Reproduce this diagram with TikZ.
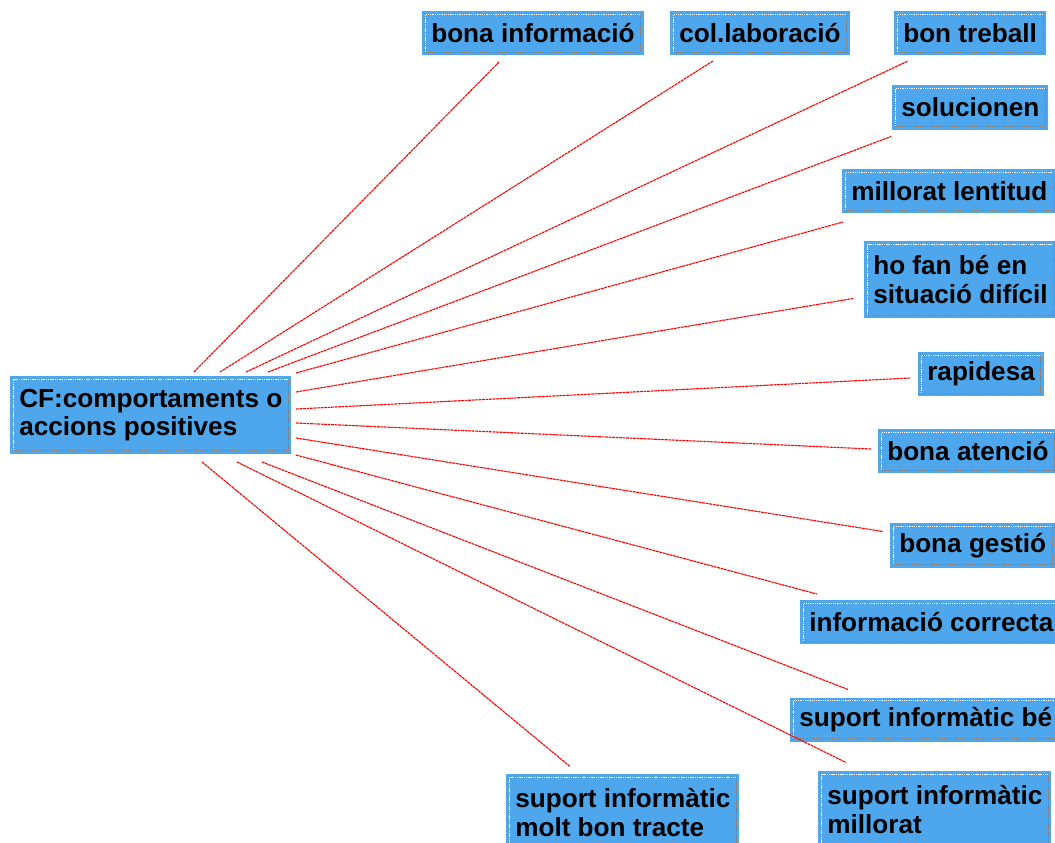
\documentclass[tikz,border=0pt]{standalone}
\usepackage{fontspec}
\setmainfont{Liberation Sans}
\definecolor{boxblue}{RGB}{78,167,237}
\definecolor{edgegray}{RGB}{128,128,128}
\tikzset{
box/.style={fill=boxblue,anchor=west,align=left,font=\fontsize{18.6pt}{20.3pt}\selectfont\bfseries,
  inner xsep=6.4pt,inner ysep=2pt,minimum height=31.3pt,
  path picture={
    \draw[white,dash pattern=on 1pt off 0.6pt,line width=0.6pt] ([shift={(3,-3)}]path picture bounding box.south west) |- ([shift={(-3,3)}]path picture bounding box.north east);
    \draw[edgegray,dash pattern=on 1pt off 0.6pt,line width=0.6pt] ([shift={(3,-3)}]path picture bounding box.south west) -| ([shift={(-3,3)}]path picture bounding box.north east);
  }},
tall/.style={minimum height=54.8pt},
link/.style={red,line width=0.8pt,dash pattern=on 2pt off 0.5pt}
}

\begin{document}
\begin{tikzpicture}[x=0.025cm,y=-0.025cm]
\useasboundingbox (0,0) rectangle (1055,843);
\node[box,tall] (cf) at (10,415) {CF:comportaments o\\accions positives};
\node[box] (bi) at (422,33) {bona informació};
\node[box] (col) at (670,33) {col.laboració};
\node[box] (bt) at (894,33) {bon treball};
\node[box] (sol) at (892,107.5) {solucionen};
\node[box] (ml) at (842,191) {millorat lentitud};
\node[box,tall] (hf) at (864,279.5) {ho fan bé en\\situació difícil};
\node[box] (rap) at (918,374) {rapidesa};
\node[box] (ba) at (878,451) {bona atenció};
\node[box] (bg) at (890,545.5) {bona gestió};
\node[box] (ic) at (800,622) {informació correcta};
\node[box] (sib) at (790,719.5) {suport informàtic bé};
\node[box,tall] (sim) at (818,809.5) {suport informàtic\\millorat};
\node[box,tall] (mbt) at (506,812.5) {suport informàtic\\molt bon tracte};
% connectors from the central box
\foreach \t/\a/\b/\c/\d in {bi/184/-43/77/29, col/210/-43/43/28, bt/236/-43/14/28,
  sol/258/-43/-1/29, ml/286/-42/1/31, hf/286/-23/-11/19, rap/286/-6/-8/4,
  ba/286/8/-7/-2, bg/286/23/-7/-14, ic/286/40/17/-28, sib/252/47/58/-30,
  sim/227/47/28/-47, mbt/192/47/64/-46}
  \draw[link] ([shift={(\a,\b)}]cf.west) -- ([shift={(\c,\d)}]\t.west);
\end{tikzpicture}
\end{document}
